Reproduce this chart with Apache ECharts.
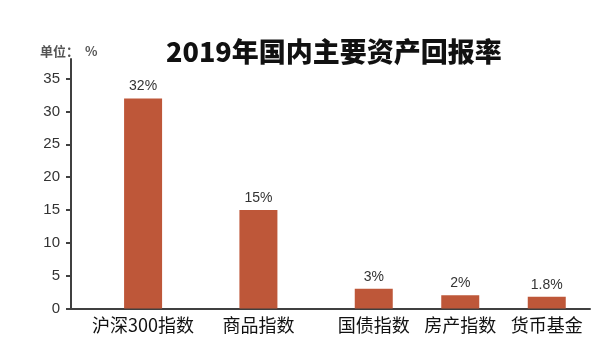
<!DOCTYPE html>
<html>
<head>
<meta charset="utf-8">
<script src="https://cdn.jsdelivr.net/npm/echarts@6/dist/echarts.min.js"></script>
<style>
html,body{margin:0;padding:0;background:#fff;}
#chart{width:616px;height:351px;}
</style>
</head>
<body>
<div id="chart"></div>
<script>
// ---- data ----
const categories = ['沪深300指数', '商品指数', '国债指数', '房产指数', '货币基金'];
const returns = [32, 15, 3, 2, 1.8];
const yTicks = [0, 5, 10, 15, 20, 25, 30, 35];

// ---- layout (uneven spacing in the original, modelled with category slots) ----
const slotCount = 18;
const slotIndex = [2, 6, 10, 13, 16];

const axisData = new Array(slotCount).fill('');
const seriesData = new Array(slotCount).fill('-');
categories.forEach((c, i) => { axisData[slotIndex[i]] = c; seriesData[slotIndex[i]] = returns[i]; });

const chart = echarts.init(document.getElementById('chart'), null, {renderer: 'canvas'});
chart.setOption({
  animation: false,
  backgroundColor: '#ffffff',
  title: [
    {
      text: '2019年国内主要资产回报率',
      left: 161, top: 33,
      textStyle: {fontFamily: '"Noto Sans CJK SC", sans-serif', fontWeight: 900, fontSize: 27, color: '#111111'}
    },
    {
      text: '单位：  %',
      left: 35, top: 40,
      textStyle: {fontFamily: '"Noto Sans CJK SC", sans-serif', fontWeight: 'bold', fontSize: 13, color: '#555555'}
    }
  ],
  grid: {left: 71, right: 26, top: 59, bottom: 42.5, containLabel: false},
  xAxis: {
    type: 'category',
    data: axisData,
    boundaryGap: true,
    axisLine: {lineStyle: {color: '#404040', width: 2}},
    axisTick: {show: false},
    axisLabel: {
      interval: 0, margin: 8,
      fontFamily: '"Noto Sans CJK SC", sans-serif', fontSize: 18, color: '#111111'
    }
  },
  yAxis: {
    type: 'value',
    min: 0, max: 38, interval: 5,
    splitLine: {show: false},
    axisLine: {show: true, lineStyle: {color: '#404040', width: 2}},
    axisTick: {show: true, inside: false, length: 5, lineStyle: {color: '#404040', width: 2}, customValues: yTicks},
    axisLabel: {
      margin: 11, customValues: yTicks,
      fontFamily: '"Liberation Sans", Arial, sans-serif', fontSize: 15, color: '#333333'
    }
  },
  series: [{
    type: 'bar',
    data: seriesData,
    barWidth: 38,
    itemStyle: {color: '#BE5739'},
    label: {
      show: true, position: 'top', distance: 5,
      formatter: p => p.value + '%',
      fontFamily: '"Liberation Sans", Arial, sans-serif', fontSize: 14, color: '#333333'
    }
  }]
});
</script>
</body>
</html>
